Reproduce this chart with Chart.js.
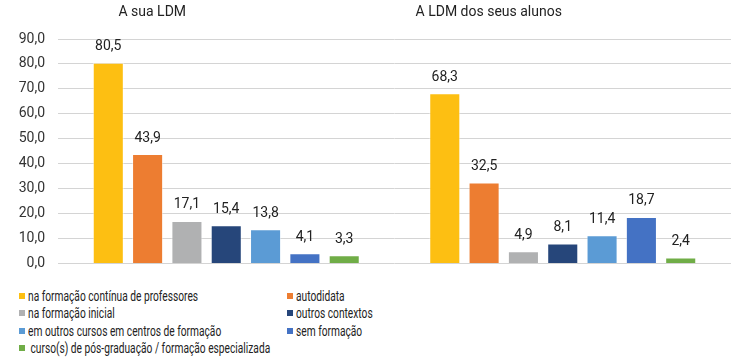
<!DOCTYPE html>
<html>
<head>
<meta charset="utf-8">
<script src="https://cdn.jsdelivr.net/npm/chart.js@4/dist/chart.umd.min.js"></script>
<style>
  body { margin: 0; background: #fff; font-family: Roboto, sans-serif; }
  #wrap { position: relative; width: 731px; height: 361px; }
  #box { position: absolute; left: 0; top: 0; width: 731px; height: 285px; }
  #legend { position: absolute; left: 19px; top: 287px; display: grid; grid-template-columns: 268px 300px; font-size: 15px; color: #222; }
  .item { display: flex; align-items: center; height: 17.5px; white-space: pre; }
  .sw { width: 6px; height: 6px; margin-right: 3px; flex: none; }
  .txt { display: inline-block; transform: scaleX(0.68); transform-origin: left center; }
</style>
</head>
<body>
<div id="wrap">
  <div id="box"><canvas id="myChart"></canvas></div>
  <div id="legend"></div>
</div>
<script>
const groups = ['A sua LDM', 'A LDM dos seus alunos'];
const seriesNames = [
  'na formação contínua de professores',
  'autodidata',
  'na formação inicial',
  'outros contextos',
  'em outros cursos em centros de formação',
  'sem formação',
  ' curso(s) de pós-graduação / formação especializada'
];
const formacaoContinua = [80.5, 68.3];
const autodidata = [43.9, 32.5];
const formacaoInicial = [17.1, 4.9];
const outrosContextos = [15.4, 8.1];
const outrosCursos = [13.8, 11.4];
const semFormacao = [4.1, 18.7];
const posGraduacao = [3.3, 2.4];
const yMax = 90;
const yStep = 10;

const seriesValues = [formacaoContinua, autodidata, formacaoInicial, outrosContextos, outrosCursos, semFormacao, posGraduacao];
const seriesColors = ['#FDBF12', '#ED7D31', '#B0B1B2', '#26467A', '#5B9BD5', '#4472C4', '#70AD47'];

const fmt = v => v.toFixed(1).replace('.', ',');

// value labels above every bar
const barLabels = {
  id: 'barLabels',
  afterDatasetsDraw(chart) {
    const ctx = chart.ctx;
    ctx.save();
    ctx.font = '14px Roboto';
    ctx.fillStyle = '#222';
    ctx.textAlign = 'center';
    ctx.textBaseline = 'bottom';
    chart.data.datasets.forEach((ds, i) => {
      chart.getDatasetMeta(i).data.forEach((bar, j) => {
        ctx.fillText(fmt(ds.data[j]), bar.x, bar.y - 9);
      });
    });
    ctx.restore();
  }
};

const ctx = document.getElementById('myChart').getContext('2d');
const myChart = new Chart(ctx, {
  type: 'bar',
  data: {
    labels: groups,
    datasets: seriesNames.map((name, i) => ({
      label: name,
      data: seriesValues[i],
      backgroundColor: seriesColors[i],
      borderColor: 'rgba(255,255,255,0.5)',
      borderWidth: 1,
      barPercentage: 0.79,
      categoryPercentage: 0.818
    }))
  },
  options: {
    responsive: true,
    maintainAspectRatio: false,
    animation: false,
    layout: { padding: { top: 0, right: 0, bottom: 21, left: 0 } },
    plugins: { legend: { display: false }, tooltip: { enabled: false } },
    scales: {
      x: {
        position: 'top',
        grid: { display: false, drawTicks: false },
        border: { display: false },
        ticks: { font: { size: 14, family: 'Roboto' }, color: '#222', labelOffset: -74, padding: 18 },
        afterFit: s => { s.height = 39; }
      },
      y: {
        min: 0,
        max: yMax,
        grid: { color: '#D4D4D4', lineWidth: 1, drawTicks: false },
        border: { display: false },
        ticks: { stepSize: yStep, font: { size: 14, family: 'Roboto' }, color: '#333', padding: 13, callback: v => fmt(v) },
        afterFit: s => { s.width = 58; }
      }
    }
  },
  plugins: [barLabels]
});

// two-column legend below the chart
const legend = document.getElementById('legend');
myChart.data.datasets.forEach(ds => {
  const item = document.createElement('div');
  item.className = 'item';
  item.innerHTML = '<span class="sw" style="background:' + ds.backgroundColor + '"></span><span class="txt"></span>';
  item.querySelector('.txt').textContent = ds.label;
  legend.appendChild(item);
});
</script>
</body>
</html>
